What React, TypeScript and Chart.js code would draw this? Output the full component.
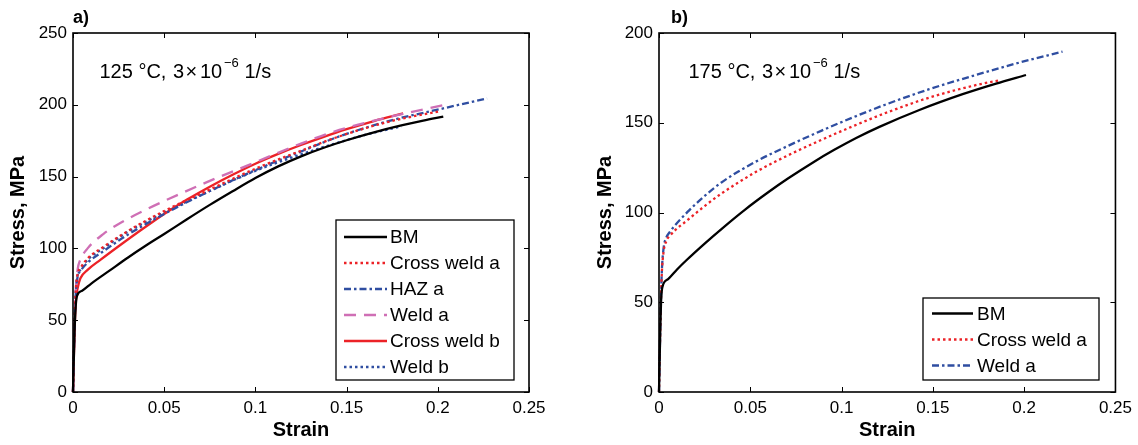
import React, { useEffect, useRef } from "react";
import { Chart, registerables } from "chart.js";

Chart.register(...registerables);

const FONT = "'Liberation Sans', Arial, Helvetica, sans-serif";

// ---------- ticks ----------
const xTicks = [0, 0.05, 0.1, 0.15, 0.2, 0.25];
const xTickLabels = ["0", "0.05", "0.1", "0.15", "0.2", "0.25"];
const yTicksA = [0, 50, 100, 150, 200, 250];
const yTickLabelsA = ["0", "50", "100", "150", "200", "250"];
const yTicksB = [0, 50, 100, 150, 200];
const yTickLabelsB = ["0", "50", "100", "150", "200"];

// ---------- panel a) 125 °C ----------
const namesA = ["BM", "Cross weld a", "HAZ a", "Weld a", "Cross weld b", "Weld b"];

const bmA_x = [0, 0.0008, 0.0015, 0.0022, 0.005, 0.01, 0.02, 0.03, 0.04, 0.05, 0.0625, 0.075, 0.0875, 0.1, 0.1125, 0.125, 0.1375, 0.15, 0.165, 0.18, 0.192, 0.203];
const bmA_y = [0, 40, 60, 67, 70.5, 75.5, 84.5, 93.5, 102, 110, 120.3, 130.3, 139.8, 149, 157.1, 164.1, 170.1, 175.3, 180.8, 185.6, 189, 191.8];

const cwaA_x = [0, 0.0008, 0.0015, 0.0025, 0.004, 0.008, 0.0166, 0.03, 0.05, 0.075, 0.1, 0.125, 0.146, 0.174, 0.201];
const cwaA_y = [0, 45, 70, 82, 86, 93, 101, 112, 126, 141, 155.5, 168, 178, 188.5, 195.5];

const hazA_x = [0, 0.0008, 0.0015, 0.0025, 0.004, 0.008, 0.0166, 0.03, 0.05, 0.075, 0.1, 0.125, 0.146, 0.174, 0.203, 0.227];
const hazA_y = [0, 45, 68, 80, 84, 90, 98, 109.5, 124, 140, 154.5, 167.5, 178, 189, 197.5, 204.5];

const weldaA_x = [0, 0.0008, 0.0015, 0.0025, 0.004, 0.008, 0.0166, 0.025, 0.04, 0.05, 0.075, 0.1, 0.125, 0.146, 0.174, 0.204];
const weldaA_y = [0, 45, 70, 85, 92, 100, 110, 117, 127, 133, 147, 160, 173, 182.5, 191.7, 200];

const cwbA_x = [0, 0.0008, 0.0015, 0.0025, 0.004, 0.008, 0.015, 0.025, 0.0375, 0.05, 0.0625, 0.075, 0.0875, 0.1, 0.1125, 0.125, 0.1375, 0.15, 0.165, 0.181];
const cwbA_y = [0, 40, 62, 72, 79, 85, 92, 101.5, 113, 124, 134, 143, 151.3, 159, 165.8, 172, 177.7, 183, 188.7, 194];

const weldbA_x = [0, 0.0008, 0.0015, 0.0025, 0.004, 0.008, 0.0166, 0.03, 0.05, 0.075, 0.1, 0.125, 0.141, 0.16, 0.18];
const weldbA_y = [0, 45, 69, 81, 85, 92, 100, 111.5, 125, 140, 154, 165.5, 172, 179, 185];

// ---------- panel b) 175 °C ----------
const namesB = ["BM", "Cross weld a", "Weld a"];

const bmB_x = [0, 0.0006, 0.0012, 0.002, 0.005, 0.01, 0.015, 0.025, 0.035, 0.047, 0.06, 0.0706, 0.085, 0.096, 0.108, 0.1207, 0.1426, 0.1663, 0.1846, 0.201];
const bmB_y = [0, 30, 52, 59, 62.9, 68.4, 73.4, 82.7, 91.5, 101.5, 111.4, 118.9, 128.3, 134.9, 141.5, 147.7, 157.1, 165.9, 171.8, 176.6];

const cwaB_x = [0, 0.0008, 0.0015, 0.0025, 0.004, 0.0068, 0.0159, 0.025, 0.034, 0.0524, 0.0706, 0.0888, 0.107, 0.1235, 0.148, 0.1754, 0.187];
const cwaB_y = [0, 40, 65, 78, 84, 88, 96, 103.6, 110.4, 122.2, 131.8, 140.4, 148.4, 155.2, 164, 171.4, 173.7];

const weldaB_x = [0, 0.0008, 0.0015, 0.0025, 0.004, 0.0058, 0.0159, 0.025, 0.034, 0.0524, 0.0706, 0.0888, 0.107, 0.1235, 0.148, 0.1755, 0.1955, 0.221];
const weldaB_y = [0, 40, 66, 80, 86, 89, 100.6, 109.2, 116.6, 128, 137.1, 145.5, 153.3, 159.9, 168.7, 177.2, 183, 189.6];

// ---------- styles ----------
const BLACK = "#000000";
const RED = "#ec2227";
const BLUE = "#2f4ea1";
const MAGENTA = "#cf6fb5";
const DOT = [2.5, 3];
const DASHDOT = [7, 3, 2.5, 3];
const DASH = [12, 8];
const LW = 2.3;

type Ser = { label: string; x: number[]; y: number[]; color: string; dash: number[] };

const seriesA: Ser[] = [
  { label: namesA[0], x: bmA_x, y: bmA_y, color: BLACK, dash: [] },
  { label: namesA[1], x: cwaA_x, y: cwaA_y, color: RED, dash: DOT },
  { label: namesA[2], x: hazA_x, y: hazA_y, color: BLUE, dash: DASHDOT },
  { label: namesA[3], x: weldaA_x, y: weldaA_y, color: MAGENTA, dash: DASH },
  { label: namesA[4], x: cwbA_x, y: cwbA_y, color: RED, dash: [] },
  { label: namesA[5], x: weldbA_x, y: weldbA_y, color: BLUE, dash: DOT },
];

const seriesB: Ser[] = [
  { label: namesB[0], x: bmB_x, y: bmB_y, color: BLACK, dash: [] },
  { label: namesB[1], x: cwaB_x, y: cwaB_y, color: RED, dash: DOT },
  { label: namesB[2], x: weldaB_x, y: weldaB_y, color: BLUE, dash: DASHDOT },
];

type Panel = {
  series: Ser[];
  yMax: number;
  yTicks: number[];
  yTickLabels: string[];
  padLeft: number;
  padRight: number;
  yWidth: number;
  panelLabel: string;
  panelLabelX: number;
  temp: string;
  textX: number;
  legendBox: [number, number, number, number];
  legendRow0: number;
  legendSample: [number, number];
  legendTextX: number;
};

const panelA: Panel = {
  series: seriesA,
  yMax: 250,
  yTicks: yTicksA,
  yTickLabels: yTickLabelsA,
  padLeft: 0,
  padRight: 36,
  yWidth: 73,
  panelLabel: "a)",
  panelLabelX: 73,
  temp: "125",
  textX: 99.5,
  legendBox: [336, 220, 514, 380],
  legendRow0: 237,
  legendSample: [344, 387],
  legendTextX: 390,
};

const panelB: Panel = {
  series: seriesB,
  yMax: 200,
  yTicks: yTicksB,
  yTickLabels: yTickLabelsB,
  padLeft: 22,
  padRight: 22,
  yWidth: 72,
  panelLabel: "b)",
  panelLabelX: 106,
  temp: "175",
  textX: 123.5,
  legendBox: [358, 298, 534, 380],
  legendRow0: 313.5,
  legendSample: [367, 408],
  legendTextX: 412,
};

function makeDecor(p: Panel) {
  return {
    id: "decor",
    afterDraw(chart: any) {
      const { ctx, chartArea: a, scales } = chart;
      ctx.save();
      // box
      ctx.strokeStyle = "#000";
      ctx.lineWidth = 1.6;
      ctx.setLineDash([]);
      ctx.strokeRect(a.left, a.top, a.right - a.left, a.bottom - a.top);
      // inner ticks
      ctx.lineWidth = 1;
      ctx.beginPath();
      for (const v of xTicks) {
        const px = Math.round(scales.x.getPixelForValue(v)) + 0.5;
        ctx.moveTo(px, a.bottom);
        ctx.lineTo(px, a.bottom - 5);
        ctx.moveTo(px, a.top);
        ctx.lineTo(px, a.top + 5);
      }
      for (const v of p.yTicks) {
        const py = Math.round(scales.y.getPixelForValue(v)) + 0.5;
        ctx.moveTo(a.left, py);
        ctx.lineTo(a.left + 5, py);
        ctx.moveTo(a.right, py);
        ctx.lineTo(a.right - 5, py);
      }
      ctx.stroke();

      // panel label
      ctx.fillStyle = "#000";
      ctx.textBaseline = "alphabetic";
      ctx.textAlign = "left";
      ctx.font = `bold 18px ${FONT}`;
      ctx.fillText(p.panelLabel, p.panelLabelX, 23);

      // annotation: "T °C, 3×10^-6 1/s"
      const x0 = p.textX;
      ctx.font = `20px ${FONT}`;
      ctx.fillText(`${p.temp} \u00B0C,`, x0, 78);
      ctx.fillText("3", x0 + 73.5, 78);
      ctx.fillText("\u00D7", x0 + 86, 78);
      ctx.fillText("10", x0 + 100.5, 78);
      ctx.font = `13px ${FONT}`;
      ctx.fillText("\u22126", x0 + 124.5, 67);
      ctx.font = `20px ${FONT}`;
      ctx.fillText("1/s", x0 + 145, 78);

      // legend
      const [l, t, r, b] = p.legendBox;
      ctx.fillStyle = "#fff";
      ctx.fillRect(l, t, r - l, b - t);
      ctx.strokeStyle = "#000";
      ctx.lineWidth = 1.3;
      ctx.strokeRect(l, t, r - l, b - t);
      ctx.font = `19px ${FONT}`;
      ctx.textBaseline = "middle";
      p.series.forEach((s, i) => {
        const y = p.legendRow0 + i * 26;
        ctx.strokeStyle = s.color;
        ctx.lineWidth = LW;
        ctx.setLineDash(s.dash);
        ctx.beginPath();
        ctx.moveTo(p.legendSample[0], y);
        ctx.lineTo(p.legendSample[1], y);
        ctx.stroke();
        ctx.setLineDash([]);
        ctx.fillStyle = "#000";
        ctx.fillText(s.label, p.legendTextX, y + 1);
      });
      ctx.restore();
    },
  };
}

function PanelChart({ p, width, left }: { p: Panel; width: number; left: number }) {
  const ref = useRef<HTMLCanvasElement | null>(null);
  useEffect(() => {
    if (!ref.current) return;
    const chart = new Chart(ref.current, {
      type: "scatter",
      data: {
        datasets: p.series.map((s) => ({
          label: s.label,
          data: s.x.map((x, i) => ({ x, y: s.y[i] })),
          showLine: true,
          borderColor: s.color,
          backgroundColor: s.color,
          borderWidth: LW,
          borderDash: s.dash,
          pointRadius: 0,
          pointHoverRadius: 0,
          cubicInterpolationMode: "monotone" as const,
          clip: false as any,
        })),
      },
      options: {
        animation: false,
        responsive: false,
        maintainAspectRatio: false,
        devicePixelRatio: 1,
        events: [],
        layout: { padding: { left: p.padLeft, right: p.padRight, top: 33, bottom: 0 } },
        plugins: { legend: { display: false }, tooltip: { enabled: false } },
        scales: {
          x: {
            type: "linear",
            min: 0,
            max: 0.25,
            afterBuildTicks: (s: any) => {
              s.ticks = xTicks.map((v) => ({ value: v }));
            },
            afterFit: (s: any) => {
              s.height = 53;
            },
            grid: { display: false, drawTicks: false },
            border: { display: false },
            ticks: {
              autoSkip: false,
              maxRotation: 0,
              padding: 6,
              color: "#000",
              font: { family: FONT, size: 17 },
              callback: (_v: any, i: number) => xTickLabels[i],
            },
            title: {
              display: true,
              text: "Strain",
              color: "#000",
              font: { family: FONT, size: 20, weight: "bold" },
              padding: { top: 0, bottom: 3 },
            },
          },
          y: {
            type: "linear",
            min: 0,
            max: p.yMax,
            afterBuildTicks: (s: any) => {
              s.ticks = p.yTicks.map((v) => ({ value: v }));
            },
            afterFit: (s: any) => {
              s.width = p.yWidth;
            },
            grid: { display: false, drawTicks: false },
            border: { display: false },
            ticks: {
              autoSkip: false,
              padding: 6,
              color: "#000",
              font: { family: FONT, size: 17 },
              callback: (_v: any, i: number) => p.yTickLabels[i],
            },
            title: {
              display: true,
              text: "Stress, MPa",
              color: "#000",
              font: { family: FONT, size: 20, weight: "bold" },
              padding: { top: 6, bottom: 0 },
            },
          },
        },
      },
      plugins: [makeDecor(p)],
    } as any);
    return () => chart.destroy();
  }, [p]);
  return (
    <canvas
      ref={ref}
      width={width}
      height={445}
      style={{ position: "absolute", left, top: 0, width, height: 445 }}
    />
  );
}

export default function App() {
  return (
    <div style={{ position: "absolute", left: 0, top: 0, width: 1138, height: 445, background: "#fff" }}>
      <PanelChart p={panelA} width={565} left={0} />
      <PanelChart p={panelB} width={573} left={565} />
    </div>
  );
}
